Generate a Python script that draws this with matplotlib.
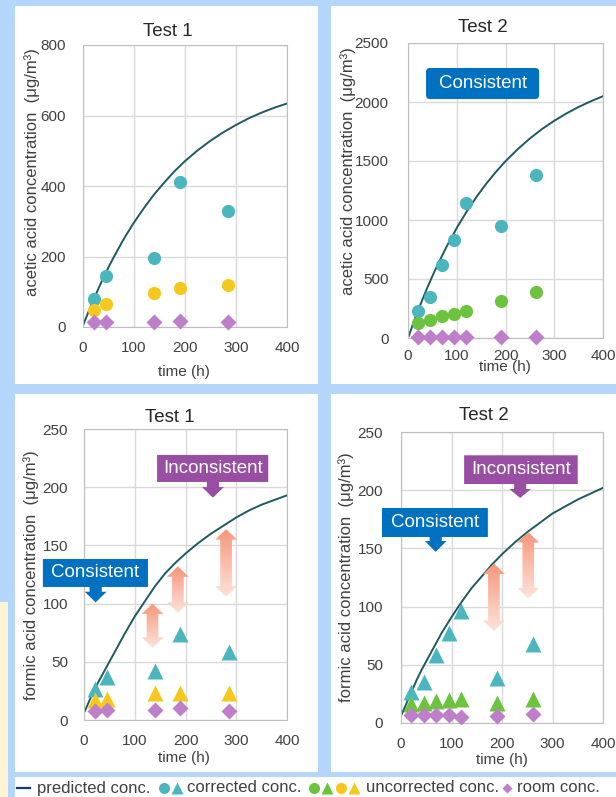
import numpy as np
import matplotlib.pyplot as plt
from matplotlib.patches import Rectangle, Polygon, FancyBboxPatch
from matplotlib.lines import Line2D
from matplotlib.colors import LinearSegmentedColormap

plt.rcParams['font.family'] = ['Liberation Sans', 'DejaVu Sans']

# --- data ---
# Test 1 sampling times (h)
t1 = [22, 45, 140, 190, 285]
t1_acetic_corr = [80, 145, 195, 412, 330]
t1_acetic_unc = [48, 65, 97, 110, 120]
t1_acetic_room = [14, 14, 14, 18, 14]
t1_formic_corr = [27, 37, 42, 74, 58]
t1_formic_unc = [17, 18, 23, 23, 23]
t1_formic_room = [8, 9, 9, 10, 8]

# Test 2 sampling times (h)
t2 = [20, 45, 70, 95, 118, 190, 262]
t2_acetic_corr = [230, 345, 620, 830, 1140, 945, 1385]
t2_acetic_unc = [130, 155, 185, 200, 225, 310, 390]
t2_acetic_room = [5, 5, 5, 5, 5, 5, 5]
t2_formic_corr = [27, 35, 58, 77, 96, 39, 68]
t2_formic_unc = [16, 17, 19, 20, 21, 17, 21]
t2_formic_room = [7, 7, 7, 7, 5, 6, 8]

# predicted concentration curves
tp = [2, 10, 20, 30, 40, 50, 60, 80, 100, 120, 140, 160, 180, 200,
      225, 250, 275, 300, 325, 350, 375, 400]
pred_t1_acetic = [8, 37, 72, 105, 137, 167, 195, 248, 295, 337, 376, 410, 442, 470,
                  501, 528, 552, 573, 592, 608, 622, 634]
pred_t2_acetic = [20, 116, 226, 330, 430, 524, 614, 781, 933, 1069, 1193, 1305, 1406, 1498,
                  1600, 1691, 1771, 1841, 1903, 1958, 2006, 2049]
pred_t1_formic = [8, 16, 26, 34, 42, 50, 58, 74, 89, 102, 115, 126, 135, 143,
                  152, 160, 167, 174, 180, 185, 189, 193]
pred_t2_formic = [8, 16, 26, 36, 45, 53, 61, 77, 91, 104, 116, 126, 136, 145,
                  155, 164, 172, 180, 186, 192, 197, 202]

TEAL = '#4cb6be'
YELLOW = '#f6c71c'
GREEN = '#6cc43e'
PURPLE = '#bf7ec9'
CURVE = '#1e5a60'
TXT = '#404040'

W, H = 616, 797


def rect(l, r, t, b):
    return [l / W, 1 - b / H, (r - l) / W, (b - t) / H]


fig = plt.figure(figsize=(W / 100, H / 100), dpi=100, facecolor='#b4d6fa')

# white panels + strips
for (l, r, t, b) in [(15, 318, 6, 384), (331, 616, 6, 384), (15, 318, 394, 772),
                     (331, 616, 394, 772), (15, 616, 777, 797)]:
    fig.add_artist(Rectangle((l / W, 1 - b / H), (r - l) / W, (b - t) / H,
                             transform=fig.transFigure, fc='white', ec='none', zorder=-1))
fig.add_artist(Rectangle((0, 0), 8 / W, (797 - 602) / H, transform=fig.transFigure,
                         fc='#fdf4d6', ec='none', zorder=-1))

ax_tl = fig.add_axes(rect(82.5, 287, 45, 327))
ax_tr = fig.add_axes(rect(408, 603, 43, 338))
ax_bl = fig.add_axes(rect(84, 287, 429, 720))
ax_br = fig.add_axes(rect(401, 603, 432, 723))


def setup(ax, ymax, ystep, ylabel, xpad, ypad, ylab_xy, xlab_xy):
    ax.set_xlim(0, 400)
    ax.set_ylim(0, ymax)
    ax.set_xticks(range(0, 401, 100))
    ax.set_yticks(np.arange(0, ymax + 1, ystep))
    ax.grid(color='#d9d9d9', lw=1)
    ax.set_axisbelow(True)
    for s in ax.spines.values():
        s.set_color('#bfbfbf')
    ax.tick_params(length=0, labelsize=11, labelcolor=TXT)
    ax.tick_params(axis='x', pad=xpad)
    ax.tick_params(axis='y', pad=ypad)
    ax.set_ylabel(ylabel, fontsize=12, color=TXT, va='center')
    ax.set_xlabel('time (h)', fontsize=11, color=TXT, va='center')
    ax.yaxis.set_label_coords(*ylab_xy)
    ax.xaxis.set_label_coords(*xlab_xy)


def points(ax, t, corr, unc, room, mk, unc_color, pred):
    ax.plot(tp, pred, color=CURVE, lw=1.4, zorder=2)
    msz = 9.5 if mk == 'o' else 11.5
    ax.plot(t, corr, mk, color=TEAL, ms=msz, mec='none', clip_on=False, zorder=3)
    ax.plot(t, unc, mk, color=unc_color, ms=msz, mec='none', clip_on=False, zorder=3)
    ax.plot(t, room, 'D', color=PURPLE, ms=7.8, mec='none', clip_on=False, zorder=3)


arrow_cmap = LinearSegmentedColormap.from_list('ar', ['#fde3db', '#f7967b'])


def grad_arrow(ax, x, y0, y1, w, hw, hl):
    pts = [(x, y1), (x + hw / 2, y1 - hl), (x + w / 2, y1 - hl), (x + w / 2, y0 + hl),
           (x + hw / 2, y0 + hl), (x, y0), (x - hw / 2, y0 + hl), (x - w / 2, y0 + hl),
           (x - w / 2, y1 - hl), (x - hw / 2, y1 - hl)]
    poly = Polygon(pts, closed=True, fc='none', ec='none')
    ax.add_patch(poly)
    grad = np.linspace(0, 1, 100).reshape(-1, 1)
    im = ax.imshow(grad, cmap=arrow_cmap, extent=[x - hw / 2, x + hw / 2, y0, y1],
                   origin='lower', aspect='auto', zorder=3)
    im.set_clip_path(poly)


def callout(ax, x0, x1, yb, yt, tx, sy, ty, sw, hw, text, color):
    pts = [(x0, yb), (x0, yt), (x1, yt), (x1, yb), (tx + sw / 2, yb), (tx + sw / 2, sy),
           (tx + hw / 2, sy), (tx, ty), (tx - hw / 2, sy), (tx - sw / 2, sy), (tx - sw / 2, yb)]
    ax.add_patch(Polygon(pts, closed=True, fc=color, ec='none', clip_on=False, zorder=4))
    ax.text((x0 + x1) / 2, (yb + yt) / 2, text, color='white', fontsize=13.5,
            ha='center', va='center', zorder=5, clip_on=False)


ac_label = 'acetic acid concentration  (μg/m³)'
fo_label = 'formic acid concentration  (μg/m³)'

setup(ax_tl, 800, 200, ac_label, 10, 12, (-0.245, 0.55), (0.496, -0.16))
setup(ax_tr, 2500, 500, ac_label, 8, 14, (-0.305, 0.566), (0.497, -0.098))
setup(ax_bl, 250, 50, fo_label, 10, 11.5, (-0.26, 0.498), (0.49, -0.13))
setup(ax_br, 250, 50, fo_label, 10, 13, (-0.272, 0.50), (0.5, -0.127))

points(ax_tl, t1, t1_acetic_corr, t1_acetic_unc, t1_acetic_room, 'o', YELLOW, pred_t1_acetic)
points(ax_tr, t2, t2_acetic_corr, t2_acetic_unc, t2_acetic_room, 'o', GREEN, pred_t2_acetic)
points(ax_bl, t1, t1_formic_corr, t1_formic_unc, t1_formic_room, '^', YELLOW, pred_t1_formic)
points(ax_br, t2, t2_formic_corr, t2_formic_unc, t2_formic_room, '^', GREEN, pred_t2_formic)

# gradient double arrows (gap between prediction and measurement)
for ax, x, y0, y1 in [(ax_bl, 135, 62, 100), (ax_bl, 185, 92, 132), (ax_bl, 280, 106, 164),
                      (ax_br, 184, 79, 137), (ax_br, 252, 107, 164)]:
    grad_arrow(ax, x, y0, y1, 23, 43, 9)

# call-outs
callout(ax_bl, 144, 363, 204.5, 227.7, 254, 200.1, 191, 24, 43, 'Inconsistent', '#984ea3')
callout(ax_bl, -81, 126, 114.3, 138.3, 23, 110.2, 101.1, 24, 43, 'Consistent', '#0070c0')
callout(ax_br, 125, 350, 205.3, 230, 236, 201, 193.3, 24, 43, 'Inconsistent', '#984ea3')
callout(ax_br, -37.6, 172, 159.8, 184.7, 68.7, 156.3, 147, 24, 43, 'Consistent', '#0070c0')

box = FancyBboxPatch((37, 2025), 232, 263, boxstyle='round,pad=0,rounding_size=8',
                     mutation_aspect=4.13, fc='#0070c0', ec='none', zorder=4)
ax_tr.add_patch(box)
ax_tr.text(153, 2156, 'Consistent', color='white', fontsize=13.5, ha='center', va='center', zorder=5)

# titles
for x, y, s in [(168, 31, 'Test 1'), (483, 28, 'Test 2'), (170, 418, 'Test 1'), (484, 416, 'Test 2')]:
    fig.text(x / W, 1 - y / H, s, fontsize=13.5, color='#262626', ha='center', va='center')

# legend strip
ly = 1 - 788 / H
fig.add_artist(Line2D([17 / W, 30 / W], [ly, ly], color='#1f3864', lw=1.6, transform=fig.transFigure))
fig.text(37 / W, ly, 'predicted conc.', fontsize=12, color=TXT, va='center')
for x, m, c in [(164, 'o', TEAL), (177, '^', TEAL), (314, 'o', GREEN), (327, '^', GREEN),
                (341, 'o', YELLOW), (354, '^', YELLOW), (507, 'D', PURPLE)]:
    fig.add_artist(Line2D([x / W], [ly], marker=m, ms=8 if m != 'D' else 5.5, color=c, mec='none',
                          transform=fig.transFigure))
fig.text(187 / W, ly, 'corrected conc.', fontsize=12, color=TXT, va='center')
fig.text(366 / W, ly, 'uncorrected conc.', fontsize=12, color=TXT, va='center')
fig.text(517 / W, ly, 'room conc.', fontsize=12, color=TXT, va='center')

fig.savefig('out.png', dpi=100, facecolor=fig.get_facecolor())
